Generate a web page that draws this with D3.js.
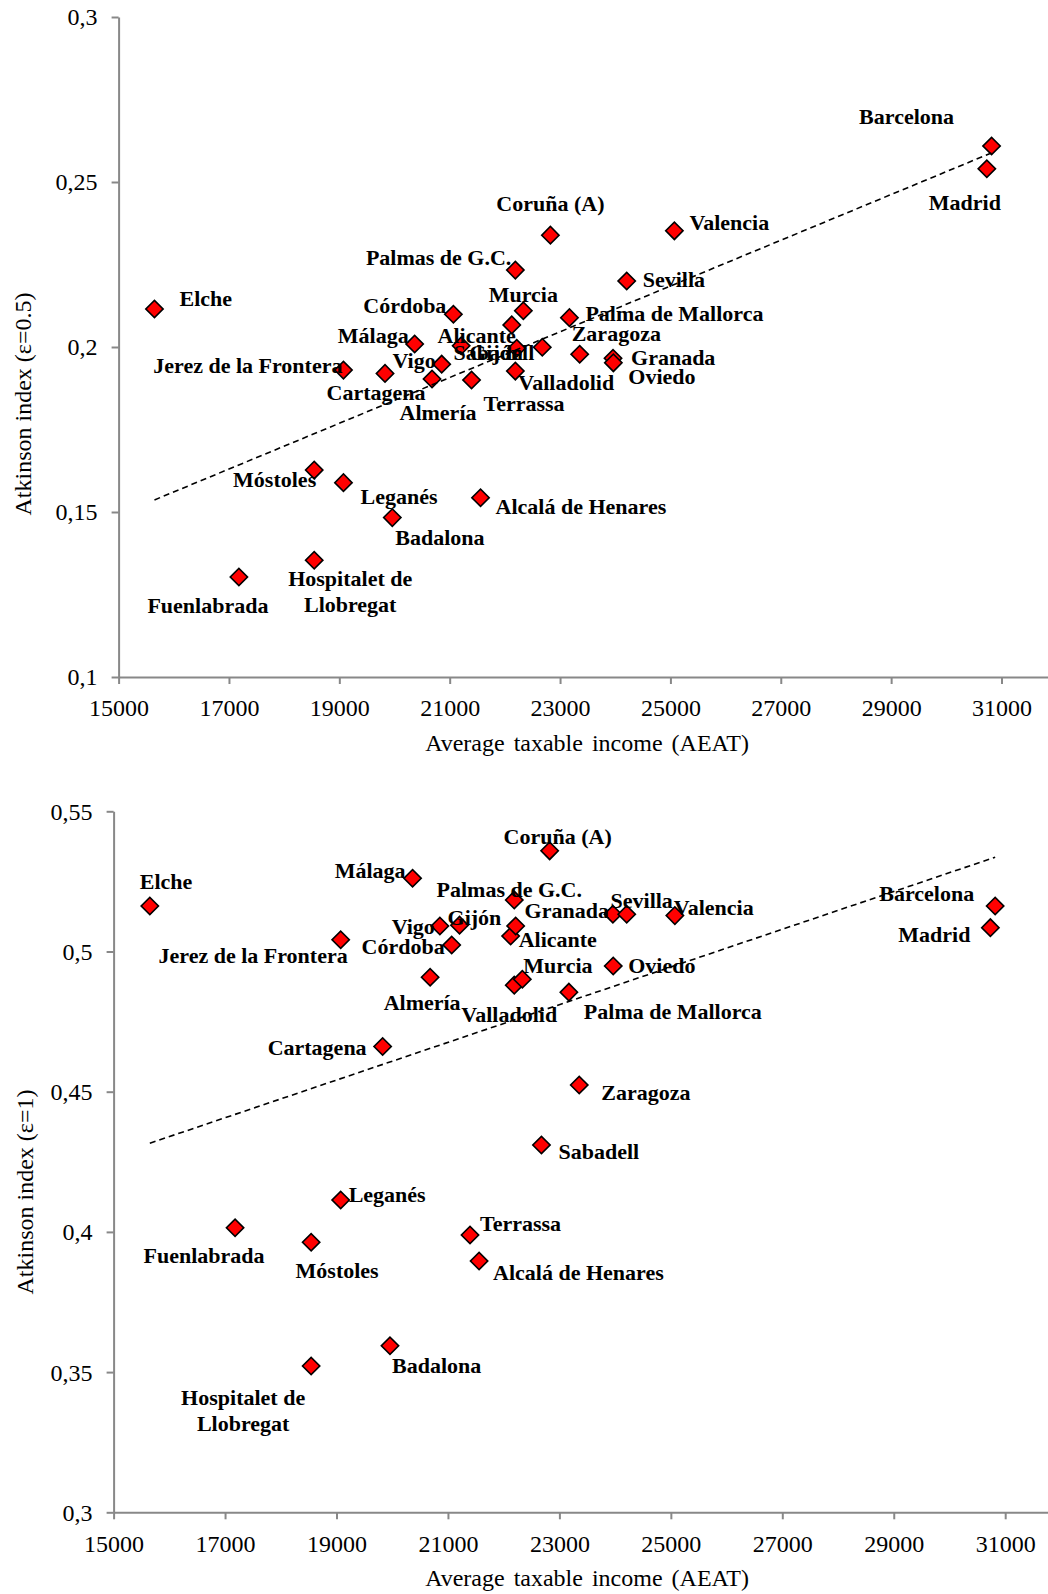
<!DOCTYPE html>
<html><head><meta charset="utf-8">
<script src="https://cdn.jsdelivr.net/npm/d3@7"></script>
<style>
body{margin:0;background:#fff}
svg{display:block}
text{font-family:"Liberation Serif","Times New Roman",Times,serif}
</style>
</head><body>
<svg id="c" width="1048" height="1594"></svg>
<script>
// ---------------- DATA ----------------
const cities = ["Elche","Fuenlabrada","Móstoles","Hospitalet de Llobregat","Jerez de la Frontera","Leganés","Cartagena","Badalona","Málaga","Almería","Vigo","Córdoba","Gijón","Terrassa","Alcalá de Henares","Alicante","Palmas de G.C.","Valladolid","","Murcia","Sabadell","Coruña (A)","Palma de Mallorca","Zaragoza","Granada","Oviedo","Sevilla","Valencia","Madrid","Barcelona"];
const income = [15650,17180,18545,18545,19075,19075,19828,19960,20365,20680,20855,21067,21208,21396,21559,22125,22190,22190,22215,22335,22678,22825,23170,23356,23960,23966,24208,25072,30734,30820];
const atkinson05 = [0.2115,0.1303,0.1627,0.1354,0.1930,0.1589,0.1920,0.1483,0.2009,0.1903,0.1948,0.2099,0.2004,0.1900,0.1543,0.2067,0.2233,0.1927,0.1996,0.2110,0.1999,0.2339,0.2089,0.1978,0.1966,0.1952,0.2200,0.2352,0.2540,0.2609];
const atkinson1 = [0.5162,0.4015,0.3963,0.3522,0.5042,0.4114,0.4661,0.3594,0.5261,0.4908,0.5091,0.5023,0.5094,0.3989,0.3896,0.5055,0.5184,0.4880,0.5091,0.4901,0.4310,0.5359,0.4855,0.4524,0.5133,0.4948,0.5133,0.5128,0.5085,0.5162];
const xTicks = [15000,17000,19000,21000,23000,25000,27000,29000,31000];
const yTicks1 = [0.1,0.15,0.2,0.25,0.3];
const yTicks2 = [0.3,0.35,0.4,0.45,0.5,0.55];
const xTitle = "Average taxable income (AEAT)";
const yTitle1 = "Atkinson index (ε=0.5)";
const yTitle2 = "Atkinson index (ε=1)";

// ---------------- LAYOUT ----------------
// label placement: [anchor, dx, dy] relative to marker centre
const labels1 = {
  "Elche":["s",25,-11],"Fuenlabrada":["m",-31,28],"Móstoles":["e",2,9],
  "Hospitalet de Llobregat":["m",36,18],"Jerez de la Frontera":["e",-1,-5],
  "Leganés":["s",17,14],"Cartagena":["m",-9,19],"Badalona":["s",3,20],
  "Málaga":["e",-6,-9],"Almería":["m",6,33],"Vigo":["e",-6,-4],"Córdoba":["e",-7,-9],
  "Gijón":["s",8,7],"Terrassa":["s",12,23],"Alcalá de Henares":["s",15,8],
  "Alicante":["e",4,10],"Palmas de G.C.":["e",-4,-13],"Valladolid":["s",3,11],
  "Murcia":["m",0,-16],"Sabadell":["e",-8,5],"Coruña (A)":["m",0,-32],
  "Palma de Mallorca":["s",16,-4],"Zaragoza":["s",-8,-21],"Granada":["s",18,-1],
  "Oviedo":["s",15,13],"Sevilla":["s",16,-2],"Valencia":["s",15,-9],
  "Madrid":["m",-22,33],"Barcelona":["m",-85,-30]
};
const labels2 = {
  "Elche":["s",-10,-25],"Málaga":["e",-7,-8],"Palmas de G.C.":["m",-5,-11],
  "Gijón":["s",-12,-8],"Vigo":["e",-5,0],"Córdoba":["e",-7,1],
  "Jerez de la Frontera":["e",7,16],"Almería":["m",-8,25],"Valladolid":["m",-5,29],
  "Coruña (A)":["m",8,-15],"Granada":["e",-4,-4],"Sevilla":["m",15,-14],
  "Valencia":["s",-1,-8],"Barcelona":["e",-21,-13],"Madrid":["e",-20,7],
  "Alicante":["s",8,3],"Murcia":["s",1,-14],"Oviedo":["s",15,-1],
  "Palma de Mallorca":["s",15,19],"Cartagena":["e",-16,1],"Zaragoza":["s",22,7],
  "Sabadell":["s",17,6],"Leganés":["s",8,-6],"Terrassa":["s",10,-12],
  "Alcalá de Henares":["s",14,11],"Fuenlabrada":["m",-31,28],"Móstoles":["m",26,28],
  "Badalona":["s",2,20],"Hospitalet de Llobregat":["m",-68,31]
};

const panels = [
  {vals: atkinson05, yTicks: yTicks1, yTitle: yTitle1, labels: labels1,
   x0:118.6, x31:1001.5, yTop:17, yBot:677, yMin:0.1, yMax:0.3,
   yTitleX:23, yTitleY:404, xTitleY:743},
  {vals: atkinson1, yTicks: yTicks2, yTitle: yTitle2, labels: labels2,
   x0:113.6, x31:1005.2, yTop:811.3, yBot:1512.3, yMin:0.3, yMax:0.55,
   yTitleX:25, yTitleY:1192, xTitleY:1578}
];

const svg = d3.select("#c");
svg.append("rect").attr("width",1048).attr("height",1594).attr("fill","#fff");
const FONT = '"Liberation Serif","Times New Roman",Times,serif';
const AXC = "#888888";
const anchorMap = {s:"start", m:"middle", e:"end"};

panels.forEach(p => {
  const x = d3.scaleLinear().domain([15000,31000]).range([p.x0,p.x31]);
  const xEnd = x.invert(1048);
  x.domain([15000,xEnd]).range([p.x0,1048]);
  const y = d3.scaleLinear().domain([p.yMin,p.yMax]).range([p.yBot,p.yTop]);

  // x axis
  const gx = svg.append("g").attr("transform",`translate(0,${p.yBot})`)
    .call(d3.axisBottom(x).tickValues(xTicks).tickSize(7).tickSizeOuter(0).tickFormat(d3.format("d")));
  gx.attr("font-family",FONT).attr("font-size",24);
  gx.select(".domain").attr("stroke",AXC).attr("stroke-width",2);
  gx.selectAll(".tick line").attr("stroke",AXC).attr("stroke-width",2);
  gx.selectAll(".tick text").attr("y",31).attr("dy","0.35em").attr("fill","#000");

  // y axis
  const gy = svg.append("g").attr("transform",`translate(${p.x0},0)`)
    .call(d3.axisLeft(y).tickValues(p.yTicks).tickSize(7).tickSizeOuter(0)
      .tickFormat(d => String(d).replace(".",",")));
  gy.attr("font-family",FONT).attr("font-size",24);
  gy.select(".domain").attr("stroke",AXC).attr("stroke-width",2);
  gy.selectAll(".tick line").attr("stroke",AXC).attr("stroke-width",2);
  gy.selectAll(".tick text").attr("x",-21).attr("dy","0.33em").attr("fill","#000");

  // titles
  svg.append("text").attr("x",587).attr("y",p.xTitleY).attr("dy","0.35em")
    .attr("text-anchor","middle").attr("font-size",24).attr("word-spacing",3)
    .text(xTitle);
  svg.append("text").attr("transform",`translate(${p.yTitleX},${p.yTitleY}) rotate(-90)`)
    .attr("dy","0.35em").attr("text-anchor","middle").attr("font-size",24)
    .text(p.yTitle);

  const data = cities.map((c,i)=>({c, xv:income[i], yv:p.vals[i]}));

  // markers
  const sym = d3.symbol().type(d3.symbolSquare).size(150);
  svg.append("g").selectAll("path").data(data).join("path")
    .attr("d",sym)
    .attr("transform",d=>`translate(${x(d.xv)},${y(d.yv)}) rotate(45)`)
    .attr("fill","#ff0000").attr("stroke","#000").attr("stroke-width",1.6);

  // labels
  const gl = svg.append("g").attr("font-weight","bold").attr("font-size",22).attr("fill","#000");
  data.filter(d=>d.c && p.labels[d.c]).forEach(d=>{
    const [a,dx,dy] = p.labels[d.c];
    const t = gl.append("text").attr("text-anchor",anchorMap[a])
      .attr("x",x(d.xv)+dx).attr("y",y(d.yv)+dy).attr("dy","0.35em");
    if (d.c === "Hospitalet de Llobregat") {
      t.append("tspan").attr("x",x(d.xv)+dx).text("Hospitalet de");
      t.append("tspan").attr("x",x(d.xv)+dx).attr("dy","1.18em").text("Llobregat");
    } else {
      t.text(d.c);
    }
  });

  // linear trend line (least squares)
  const mx = d3.mean(data,d=>d.xv), my = d3.mean(data,d=>d.yv);
  const sxy = d3.sum(data,d=>(d.xv-mx)*(d.yv-my));
  const sxx = d3.sum(data,d=>(d.xv-mx)*(d.xv-mx));
  const b = sxy/sxx, a0 = my - b*mx;
  const ext = d3.extent(data,d=>d.xv);
  const trend = ext.map(v=>({xv:v, yv:a0+b*v}));
  svg.append("path").datum(trend)
    .attr("d",d3.line().x(d=>x(d.xv)).y(d=>y(d.yv)))
    .attr("fill","none").attr("stroke","#000").attr("stroke-width",1.6)
    .attr("stroke-dasharray","6,4");
});
</script>
</body></html>
